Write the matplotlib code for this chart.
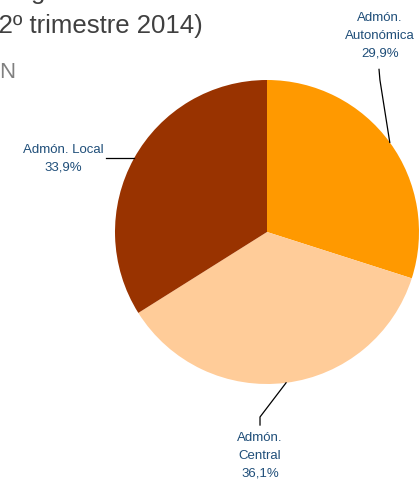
import numpy as np
import matplotlib.pyplot as plt

plt.rcParams['font.family'] = ['Liberation Sans', 'DejaVu Sans']

labels = ["Admón.\nAutonómica", "Admón.\nCentral", "Admón. Local"]
shares = [29.9, 36.1, 33.9]
colors = ["#FF9900", "#FFCC99", "#993300"]

W, H = 420, 483
fig = plt.figure(figsize=(W / 100, H / 100), dpi=100)
# pie centre (267, 232) px, radius 152 px
ax = fig.add_axes([115 / W, (H - 384) / H, 304 / W, 304 / H])
wedges, _ = ax.pie(shares, colors=colors, startangle=90, counterclock=False,
                   radius=1.0)
ax.set_xlim(-1, 1)
ax.set_ylim(-1, 1)
ax.set_aspect('equal')
ax.axis('off')

txt_color = "#1F4E79"
# text position, elbow points for each label
layout = [
    {"text": (0.743, 1.289), "path": [(0.737, 1.07), (0.743, 1.0)]},
    {"text": (-0.046, -1.474), "path": [(-0.046, -1.27), (-0.046, -1.217)]},
    {"text": (-1.342, None), "path": [(-1.06, None)]},
]

for w, lab, val, lay in zip(wedges, labels, shares, layout):
    mid = np.deg2rad((w.theta1 + w.theta2) / 2)
    ex, ey = np.cos(mid), np.sin(mid)
    pts = [(px, py if py is not None else ey) for px, py in lay["path"]]
    pts.append((ex, ey))
    xs, ys = zip(*pts)
    ax.plot(xs, ys, color="black", lw=0.9, clip_on=False)
    tx, ty = lay["text"]
    if ty is None:
        ty = ey
    pct = f"{val:.1f}%".replace(".", ",")
    ax.text(tx, ty, f"{lab}\n{pct}", ha="center", va="center",
            fontsize=9.5, color=txt_color, linespacing=1.65, clip_on=False)

# cropped title remnants
fig.text(203 / W, 1 - 33 / H, "(2º trimestre 2014)", ha="right", va="baseline",
         fontsize=18.5, color="#404040")
fig.text(45 / W, 1 + 1 / H, "g", ha="right", va="baseline",
         fontsize=18.5, color="#404040")
fig.text(15 / W, 1 - 78 / H, "N", ha="right", va="baseline",
         fontsize=16, color="#808080")

fig.savefig("out.png", dpi=100)
